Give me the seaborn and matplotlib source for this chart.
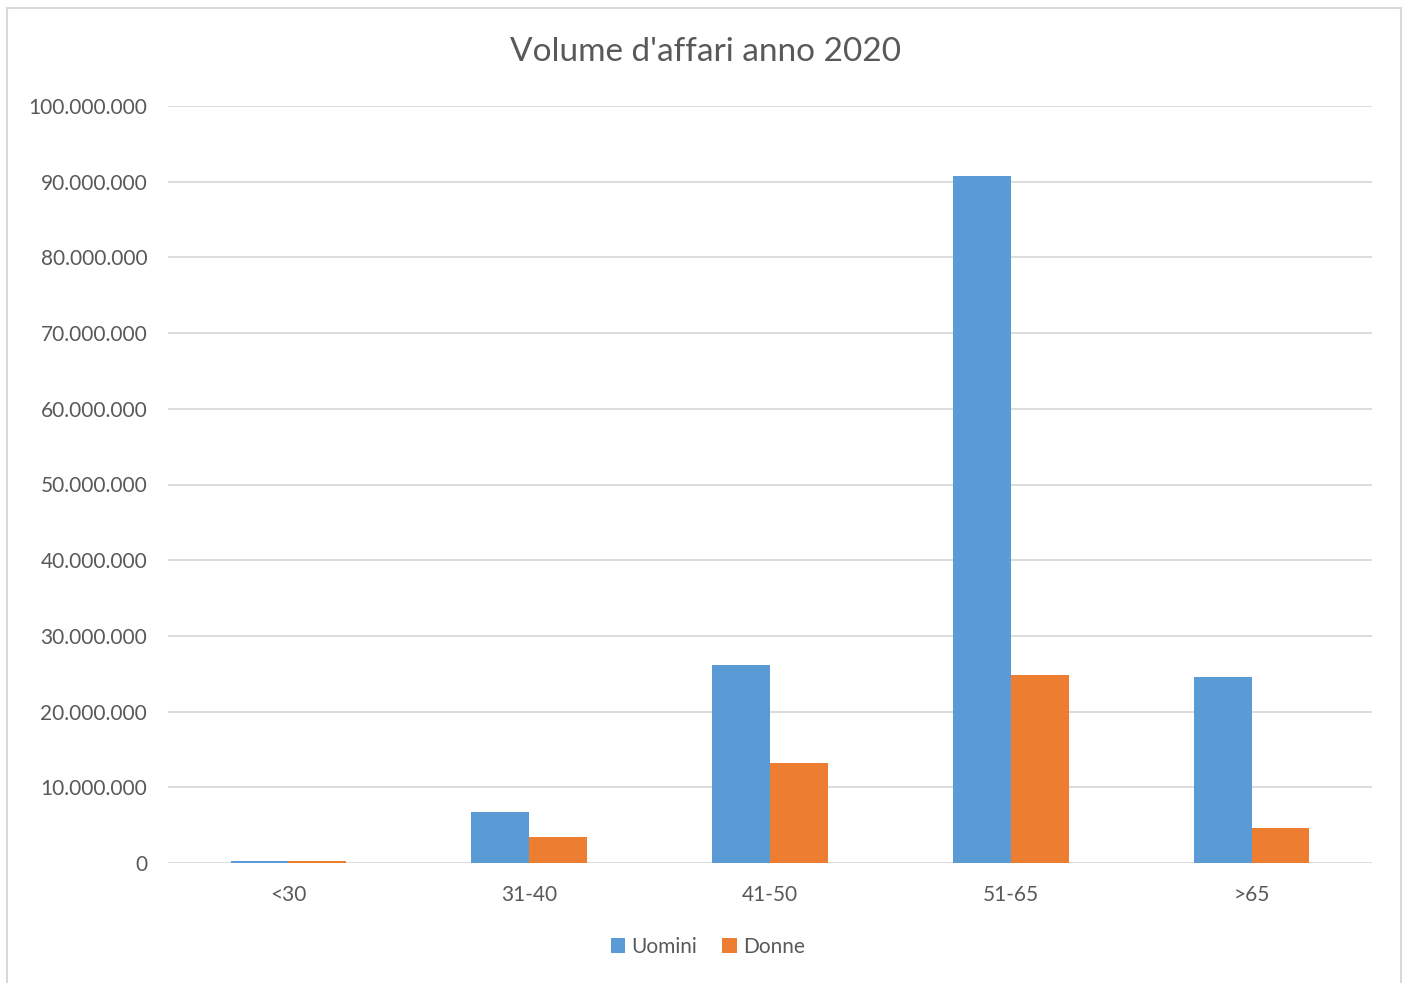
import matplotlib
matplotlib.use("Agg")
import matplotlib.pyplot as plt
import seaborn as sns
import pandas as pd
from matplotlib.patches import Rectangle
from matplotlib.ticker import FuncFormatter, MultipleLocator

categories = ["<30", "31-40", "41-50", "51-65", ">65"]
uomini = [320000, 6750000, 26200000, 90800000, 24600000]
donne = [300000, 3450000, 13250000, 24800000, 4600000]
series_names = ["Uomini", "Donne"]
colors = ["#5B9BD5", "#ED7D31"]

df = pd.DataFrame({
    "Età": categories * 2,
    "Valore": uomini + donne,
    "Sesso": [series_names[0]] * len(categories) + [series_names[1]] * len(categories),
})

sns.set_theme(style="white")
plt.rcParams["font.family"] = ["Lato", "DejaVu Sans"]

fig = plt.figure(figsize=(14.08, 9.83), dpi=100)
ax = fig.add_axes([168 / 1408, 1 - 863 / 983, (1372 - 168) / 1408, (863 - 106) / 983])

sns.barplot(data=df, x="Età", y="Valore", hue="Sesso", palette=colors,
            width=0.48, gap=0, ax=ax, saturation=1, errorbar=None, legend=True,
            edgecolor="none", linewidth=0)

ax.set_xlim(-0.5, 4.5)
ax.set_ylim(0, 100000000)
ax.yaxis.set_major_locator(MultipleLocator(10000000))
ax.yaxis.set_major_formatter(FuncFormatter(lambda v, p: f"{int(v):,}".replace(",", ".")))
ax.grid(axis="y", color="#d9d9d9", linewidth=1.3)
ax.set_axisbelow(True)
for s in ["top", "right", "left", "bottom"]:
    ax.spines[s].set_visible(False)
ax.tick_params(axis="both", length=0, labelsize=15, labelcolor="#595959")
ax.tick_params(axis="x", pad=16)
ax.tick_params(axis="y", pad=15)
ax.set_xlabel("")
ax.set_ylabel("")

fig.text(705 / 1408, 1 - 52 / 983, "Volume d'affari anno 2020", ha="center", va="center",
         fontsize=24, color="#595959")

handles, labels = ax.get_legend_handles_labels()
ax.legend(handles, labels, loc="center", bbox_to_anchor=(708 / 1408, 1 - 947 / 983),
          bbox_transform=fig.transFigure, ncol=2, frameon=False, fontsize=15,
          handlelength=0.7, handleheight=0.7, handletextpad=0.3, columnspacing=1.2,
          labelcolor="#595959")

fig.patches.append(Rectangle((7 / 1408, -0.05), (1401 - 7) / 1408, 1 - 8 / 983 + 0.05,
                             transform=fig.transFigure, fill=False, edgecolor="#d9d9d9",
                             linewidth=1.5))

fig.savefig("out.png", dpi=100, facecolor="white")
